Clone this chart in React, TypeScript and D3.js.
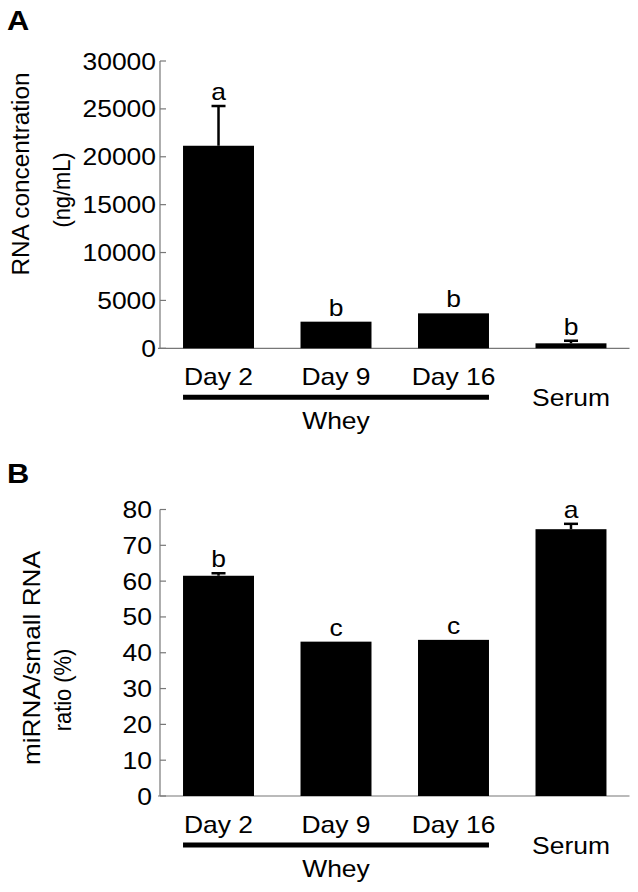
import React from "react";
import * as d3 from "d3";

const categories = ["Day 2", "Day 9", "Day 16", "Serum"];
const wheyGroup = ["Day 2", "Day 9", "Day 16"];
const rnaConc = [21150, 2780, 3650, 520];
const rnaErr = [4150, 0, 0, 270];
const rnaLetters = ["a", "b", "b", "b"];
const ratioValues = [61.5, 43.1, 43.6, 74.5];
const ratioErr = [0.7, 0, 0, 1.5];
const ratioLetters = ["b", "c", "c", "a"];
const rnaTicks = [0, 5000, 10000, 15000, 20000, 25000, 30000];
const ratioTicks = [0, 10, 20, 30, 40, 50, 60, 70, 80];

const FONT = "'Liberation Sans', Arial, Helvetica, sans-serif";

function T({ x, y, text, size = 23, sx = 1.15, anchor = "middle", rotate = false, weight = "normal" }: any) {
  const tr = rotate
    ? `translate(${x},${y}) rotate(-90) scale(${sx},1)`
    : `translate(${x},${y}) scale(${sx},1)`;
  return (
    <text transform={tr} textAnchor={anchor} fontSize={size} fontFamily={FONT} fontWeight={weight} fill="#000">
      {text}
    </text>
  );
}

function Panel({ values, errs, letters, ticks, domainMax, yTop, yBottom, label, labelY, titles, tickGap }: any) {
  const x = d3.scaleBand().domain(categories).range([160, 629.5]).paddingInner(0.396).paddingOuter(0.196);
  const y = d3.scaleLinear().domain([0, domainMax]).range([yBottom, yTop]);
  const bw = x.bandwidth();
  const axisColor = "#777";
  const wheyStart = x(wheyGroup[0])!;
  const wheyEnd = x(wheyGroup[wheyGroup.length - 1])! + bw;
  const serumC = x("Serum")! + bw / 2;
  return (
    <g>
      <T x={7} y={labelY} text={label} size={28} sx={1.1} anchor="start" weight="bold" />
      {titles.map((t: any, i: number) => (
        <T key={i} x={t.x} y={t.y} text={t.text} size={23} sx={t.sx} rotate />
      ))}
      {/* axes */}
      <line x1={160} x2={160} y1={y(domainMax)} y2={y(0)} stroke={axisColor} strokeWidth={1.2} />
      <line x1={158} x2={629.5} y1={y(0)} y2={y(0)} stroke={axisColor} strokeWidth={1.2} />
      {ticks.map((t: number) => (
        <g key={t}>
          <line x1={160} x2={166} y1={y(t)} y2={y(t)} stroke={axisColor} strokeWidth={1.2} />
          <T x={160 - tickGap} y={y(t) + 8.5} text={String(t)} anchor="end" />
        </g>
      ))}
      {/* bars */}
      {categories.map((c, i) => {
        const cx = x(c)! + bw / 2;
        const top = y(values[i] + errs[i]);
        return (
          <g key={c}>
            <rect x={x(c)} y={y(values[i])} width={bw} height={y(0) - y(values[i])} fill="#000" />
            {errs[i] > 0 && (
              <g stroke="#000" strokeWidth={2.5}>
                <line x1={cx} x2={cx} y1={y(values[i])} y2={top} />
                <line x1={cx - 7} x2={cx + 7} y1={top} y2={top} />
              </g>
            )}
            <T x={cx} y={top - 6} text={letters[i]} />
          </g>
        );
      })}
      {/* category labels */}
      {wheyGroup.map((c) => (
        <T key={c} x={x(c)! + bw / 2} y={y(0) + 36.5} text={c} />
      ))}
      <line x1={wheyStart} x2={wheyEnd} y1={y(0) + 49} y2={y(0) + 49} stroke="#000" strokeWidth={5} />
      <T x={(wheyStart + wheyEnd) / 2} y={y(0) + 80.5} text="Whey" />
      <T x={serumC} y={y(0) + 57.5} text="Serum" />
    </g>
  );
}

export default function App() {
  return (
    <svg width={638} height={892} style={{ position: "absolute", left: 0, top: 0, background: "#fff" }}>
      <rect width={638} height={892} fill="#fff" />
      <Panel
        values={rnaConc}
        errs={rnaErr}
        letters={rnaLetters}
        ticks={rnaTicks}
        domainMax={30000}
        yTop={61}
        yBottom={348.3}
        label="A"
        labelY={30}
        tickGap={4}
        titles={[
          { x: 28.5, y: 174, text: "RNA concentration", sx: 1.06 },
          { x: 70, y: 190, text: "(ng/mL)", sx: 0.95 },
        ]}
      />
      <Panel
        values={ratioValues}
        errs={ratioErr}
        letters={ratioLetters}
        ticks={ratioTicks}
        domainMax={80}
        yTop={509.5}
        yBottom={796}
        label="B"
        labelY={483}
        tickGap={8}
        titles={[
          { x: 40, y: 658, text: "miRNA/small RNA", sx: 1.14 },
          { x: 71, y: 690, text: "ratio (%)", sx: 0.95 },
        ]}
      />
    </svg>
  );
}
